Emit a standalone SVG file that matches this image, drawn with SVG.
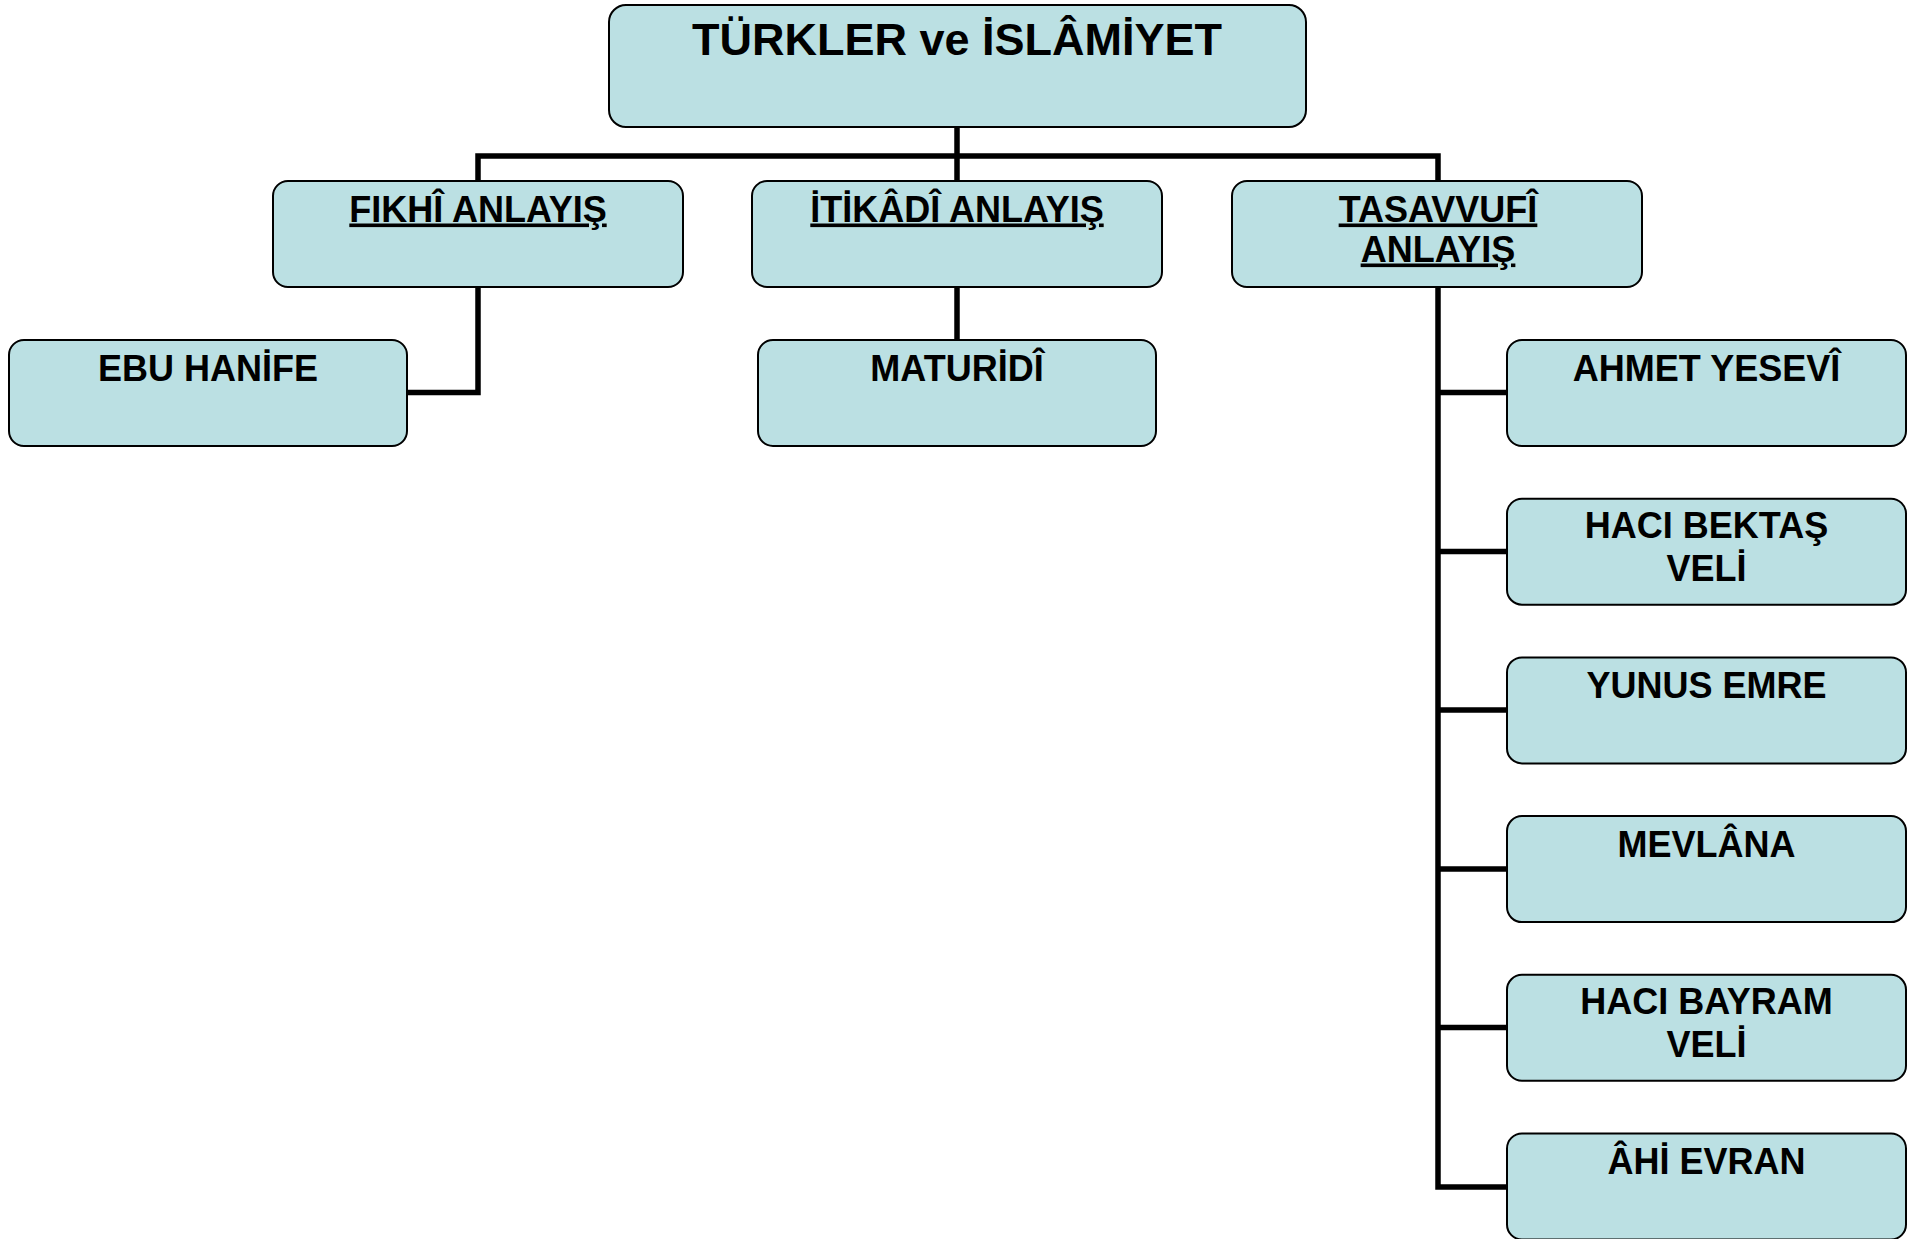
<svg xmlns="http://www.w3.org/2000/svg" width="1926" height="1239" viewBox="0 0 1926 1239">
<style>
.box{fill:#BBE0E3;stroke:#000;stroke-width:2}
.t{font-family:"Liberation Sans",Arial,sans-serif;font-weight:bold;font-size:36px;text-anchor:middle;fill:#000}
.u{text-decoration:underline;text-decoration-skip-ink:none;text-underline-offset:4px;text-decoration-thickness:3.5px}
.big{font-size:45px}
.c{fill:none;stroke:#000;stroke-width:5.5;stroke-linejoin:miter;stroke-linecap:butt}
</style>
<rect width="1926" height="1239" fill="#fff"/>
<g id="connectors">
<path class="c" d="M957 127V156M478 181V156H1438V181M957 156V181"/>
<path class="c" d="M478 287V392.5H407"/>
<path class="c" d="M957 287V340"/>
<path class="c" d="M1438 287V1187H1507M1438 392.5H1507M1438 551.5H1507M1438 710H1507M1438 869H1507M1438 1027.5H1507"/>
</g>
<g id="root"><rect class="box" x="609" y="5" width="697" height="122" rx="17"/><text class="t big" x="957" y="55">TÜRKLER ve İSLÂMİYET</text></g>
<g id="fikhi"><rect class="box" x="273" y="181" width="410" height="106" rx="15"/><text class="t u" x="478" y="221.5">FIKHÎ ANLAYIŞ</text></g>
<g id="itikadi"><rect class="box" x="752" y="181" width="410" height="106" rx="15"/><text class="t u" x="957" y="221.5">İTİKÂDÎ ANLAYIŞ</text></g>
<g id="tasavvufi"><rect class="box" x="1232" y="181" width="410" height="106" rx="15"/><text class="t u" x="1438" y="221.5">TASAVVUFÎ</text><text class="t u" x="1438" y="261.5">ANLAYIŞ</text></g>
<g id="ebuhanife"><rect class="box" x="9" y="340" width="398" height="106" rx="15"/><text class="t" x="208" y="380.5">EBU HANİFE</text></g>
<g id="maturidi"><rect class="box" x="758" y="340" width="398" height="106" rx="15"/><text class="t" x="957" y="380.5">MATURİDÎ</text></g>
<g id="ahmetyesevi"><rect class="box" x="1507" y="340" width="399" height="106" rx="15"/><text class="t" x="1706.5" y="380.5">AHMET YESEVÎ</text></g>
<g id="hacibektas"><rect class="box" x="1507" y="498.7" width="399" height="106" rx="15"/><text class="t" x="1706.5" y="538">HACI BEKTAŞ</text><text class="t" x="1706.5" y="581">VELİ</text></g>
<g id="yunusemre"><rect class="box" x="1507" y="657.4" width="399" height="106" rx="15"/><text class="t" x="1706.5" y="697.5">YUNUS EMRE</text></g>
<g id="mevlana"><rect class="box" x="1507" y="816.1" width="399" height="106" rx="15"/><text class="t" x="1706.5" y="856.5">MEVLÂNA</text></g>
<g id="hacibayram"><rect class="box" x="1507" y="974.8" width="399" height="106" rx="15"/><text class="t" x="1706.5" y="1014.3">HACI BAYRAM</text><text class="t" x="1706.5" y="1057.3">VELİ</text></g>
<g id="ahievran"><rect class="box" x="1507" y="1133.5" width="399" height="106" rx="15"/><text class="t" x="1706.5" y="1174">ÂHİ EVRAN</text></g>
</svg>
